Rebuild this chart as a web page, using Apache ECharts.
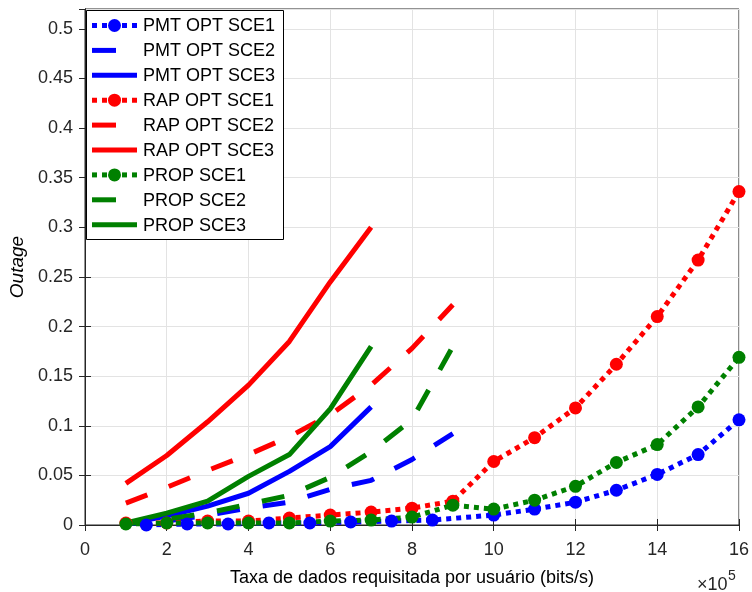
<!DOCTYPE html>
<html><head><meta charset="utf-8">
<script src="https://cdn.jsdelivr.net/npm/echarts@6/dist/echarts.min.js"></script>
<style>html,body{margin:0;padding:0;background:#fff}#c{width:752px;height:592px}</style>
</head><body><div id="c"></div>
<script>
// x values (units of 1e5 bits/s)
var xPmt1 = [1.5,2.5,3.5,4.5,5.5,6.5,7.5,8.5,10,11,12,13,14,15,16];
var xSce1 = [1,2,3,4,5,6,7,8,9,10,11,12,13,14,15,16];
var xSce2 = [1,2,3,4,5,6,7,8,9];
var xSce3 = [1,2,3,4,5,6,7];

var pmtSce1 = [0.000,0.001,0.001,0.002,0.002,0.003,0.004,0.005,0.010,0.016,0.023,0.035,0.051,0.071,0.106];
var pmtSce2 = [0.001,0.004,0.010,0.017,0.023,0.036,0.045,0.066,0.092];
var pmtSce3 = [0.001,0.009,0.019,0.032,0.054,0.079,0.119];

var rapSce1 = [0.002,0.002,0.004,0.004,0.007,0.010,0.013,0.017,0.024,0.064,0.088,0.118,0.162,0.210,0.267,0.336];
var rapSce2 = [0.022,0.038,0.055,0.071,0.089,0.111,0.141,0.178,0.222];
var rapSce3 = [0.042,0.070,0.104,0.141,0.185,0.245,0.300];

var propSce1 = [0.001,0.002,0.002,0.002,0.002,0.004,0.005,0.008,0.020,0.016,0.025,0.039,0.063,0.081,0.119,0.169];
var propSce2 = [0.001,0.006,0.012,0.021,0.030,0.048,0.074,0.106,0.180];
var propSce3 = [0.002,0.012,0.024,0.049,0.071,0.117,0.180];

var names = ['PMT OPT SCE1','PMT OPT SCE2','PMT OPT SCE3','RAP OPT SCE1','RAP OPT SCE2','RAP OPT SCE3','PROP SCE1','PROP SCE2','PROP SCE3'];
var xTitle = 'Taxa de dados requisitada por usuário (bits/s)';
var yTitle = 'Outage';

function pairs(xs, ys){ return xs.map(function(x,i){ return [x, ys[i]]; }); }

var BLUE='#0000ff', RED='#ff0000', GREEN='#008000';
var FONT='Liberation Sans, Arial, Helvetica, sans-serif';
var DOT=[5,5], DASH=[23,23];

function mk(name, xs, ys, color, kind){
  return {
    name: name, type: 'line', data: pairs(xs, ys),
    color: color,
    lineStyle: {color: color, width: 5, type: kind==='dot'?DOT:(kind==='dash'?DASH:'solid'), cap:'butt'},
    itemStyle: {color: color},
    symbol: kind==='dot' ? 'circle' : 'none',
    symbolSize: 13, showAllSymbol: true,
    emphasis: {disabled: true}
  };
}

var series = [
  mk(names[0], xPmt1, pmtSce1, BLUE, 'dot'),
  mk(names[1], xSce2, pmtSce2, BLUE, 'dash'),
  mk(names[2], xSce3, pmtSce3, BLUE, 'solid'),
  mk(names[3], xSce1, rapSce1, RED, 'dot'),
  mk(names[4], xSce2, rapSce2, RED, 'dash'),
  mk(names[5], xSce3, rapSce3, RED, 'solid'),
  mk(names[6], xSce1, propSce1, GREEN, 'dot'),
  mk(names[7], xSce2, propSce2, GREEN, 'dash'),
  mk(names[8], xSce3, propSce3, GREEN, 'solid')
];

// legend drawn as graphic (matches MATLAB-style samples)
var kinds = ['dot','dash','solid','dot','dash','solid','dot','dash','solid'];
var cols = [BLUE,BLUE,BLUE,RED,RED,RED,GREEN,GREEN,GREEN];
var graphics = [{
  type: 'rect', z: 100, shape: {x: 86.5, y: 10.5, width: 197, height: 229},
  style: {fill: '#fff', stroke: '#000', lineWidth: 1}
}];
names.forEach(function(n, i){
  var cy = 25.5 + 24.9 * i;
  var k = kinds[i], c = cols[i];
  var x2 = k === 'dash' ? 116 : 137;
  graphics.push({
    type: 'line', z: 101,
    shape: {x1: 92, y1: cy, x2: x2, y2: cy},
    style: {stroke: c, lineWidth: 5, lineDash: k === 'dot' ? DOT : null, lineCap: 'butt'}
  });
  if (k === 'dot') {
    graphics.push({type: 'circle', z: 102, shape: {cx: 114.5, cy: cy, r: 6.5}, style: {fill: c}});
  }
  graphics.push({
    type: 'text', z: 102, x: 143, y: cy + 1,
    style: {text: n, fontSize: 18, fontFamily: FONT, fill: '#000', verticalAlign: 'middle', align: 'left'}
  });
});
graphics.push({
  type: 'text', z: 100, x: 697, y: 585,
  style: {text: '×10', fontSize: 18, fontFamily: FONT, fill: '#262626', verticalAlign: 'middle', align: 'left'}
});
graphics.push({
  type: 'text', z: 100, x: 728, y: 576,
  style: {text: '5', fontSize: 14, fontFamily: FONT, fill: '#262626', verticalAlign: 'middle', align: 'left'}
});

var axisCol = '#262626', gridCol = '#e3e3e3';
var chart = echarts.init(document.getElementById('c'), null, {renderer:'canvas'});
chart.setOption({
  animation: false,
  backgroundColor: '#fff',
  textStyle: {fontFamily: FONT},
  grid: {left: 85, right: 11, top: 9, bottom: 65, show: true, borderColor: axisCol, borderWidth: 1},
  xAxis: [{
    type: 'value', min: 0, max: 16, interval: 2,
    name: xTitle, nameLocation: 'middle', nameGap: 44,
    nameTextStyle: {fontSize: 18, color: '#000', fontFamily: FONT},
    axisLine: {show: true, lineStyle: {color: axisCol}},
    axisTick: {show: true, inside: true, length: 6, lineStyle: {color: axisCol}},
    axisLabel: {fontSize: 18, color: axisCol, margin: 16, fontFamily: FONT},
    splitLine: {show: true, lineStyle: {color: gridCol, width: 1}}
  },{
    type: 'value', min: 0, max: 16, interval: 2, position: 'top',
    axisLine: {show: true, lineStyle: {color: axisCol}},
    axisTick: {show: true, inside: true, length: 6, lineStyle: {color: axisCol}},
    axisLabel: {show: false}, splitLine: {show: false}
  }],
  yAxis: [{
    type: 'value', min: 0, max: 0.52, interval: 0.05,
    name: yTitle, nameLocation: 'middle', nameGap: 46,
    nameTextStyle: {fontSize: 19, color: '#000', fontStyle: 'italic', fontFamily: FONT},
    axisLine: {show: true, lineStyle: {color: axisCol}},
    axisTick: {show: true, inside: true, length: 6, lineStyle: {color: axisCol}},
    axisLabel: {fontSize: 18, color: axisCol, margin: 12, fontFamily: FONT, showMaxLabel: false,
      formatter: function(v){ return (Math.round(v*100)/100).toString(); }},
    splitLine: {show: true, lineStyle: {color: gridCol, width: 1}}
  },{
    type: 'value', min: 0, max: 0.52, interval: 0.05, position: 'right',
    axisLine: {show: true, lineStyle: {color: axisCol}},
    axisTick: {show: true, inside: true, length: 6, lineStyle: {color: axisCol}},
    axisLabel: {show: false}, splitLine: {show: false}
  }],
  graphic: {elements: graphics},
  series: series
});
</script></body></html>
